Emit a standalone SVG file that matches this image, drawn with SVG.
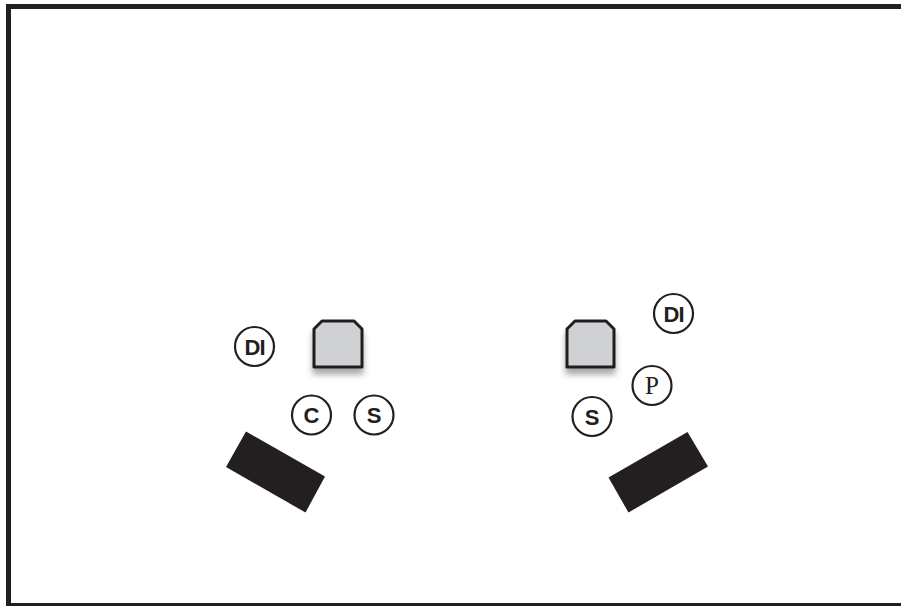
<svg xmlns="http://www.w3.org/2000/svg" width="901" height="606" viewBox="0 0 901 606">
<defs>
<filter id="sh" x="-30%" y="-30%" width="160%" height="180%">
<feDropShadow dx="0" dy="6" stdDeviation="3" flood-color="#000" flood-opacity="0.35"/>
</filter>
</defs>
<style>
.box{fill:#d0d1d3;stroke:#231f20;stroke-width:3;stroke-linejoin:round}
.ring{fill:#fff;stroke:#231f20;stroke-width:2.2}
.lbl{font-family:"Liberation Sans",Arial,sans-serif;font-weight:bold;font-size:22px;fill:#231f20;text-anchor:middle}
.ser{font-family:"Liberation Serif","Times New Roman",serif;font-size:25px;fill:#231f20;text-anchor:middle}
.blk{fill:#231f20}
</style>
<rect width="901" height="606" fill="#fff"/>
<rect x="8.5" y="6.5" width="900" height="599" fill="none" stroke="#231f20" stroke-width="5"/>
<g id="box-left"><path class="box" filter="url(#sh)" d="M322,321 L354,321 L362,329 L362,367 L314,367 L314,329 Z"/></g>
<g id="box-right"><path class="box" filter="url(#sh)" d="M575,321 L606,321 L614,329 L614,367 L567,367 L567,329 Z"/></g>
<g id="di-left"><circle class="ring" cx="254.5" cy="346.5" r="19.5"/><text class="lbl" x="254.5" y="354.5" letter-spacing="-1">DI</text></g>
<g id="c-left"><circle class="ring" cx="311.5" cy="415" r="19.5"/><text class="lbl" x="311.5" y="423">C</text></g>
<g id="s-left"><circle class="ring" cx="374" cy="415" r="19.5"/><text class="lbl" x="374" y="423">S</text></g>
<g id="di-right"><circle class="ring" cx="673.5" cy="313.5" r="19.5"/><text class="lbl" x="673.5" y="321.5" letter-spacing="-1">DI</text></g>
<g id="p-right"><circle class="ring" cx="652" cy="385.5" r="19.5"/><text class="ser" x="652" y="394">P</text></g>
<g id="s-right"><circle class="ring" cx="592" cy="416.5" r="19.5"/><text class="lbl" x="592" y="424.5">S</text></g>
<g id="bar-left"><polygon class="blk" points="246,431.5 325,476.5 305.5,512.5 226,467"/></g>
<g id="bar-right"><polygon class="blk" points="687.5,432 708,466.5 628.5,512.5 608.5,477.5"/></g>
</svg>
